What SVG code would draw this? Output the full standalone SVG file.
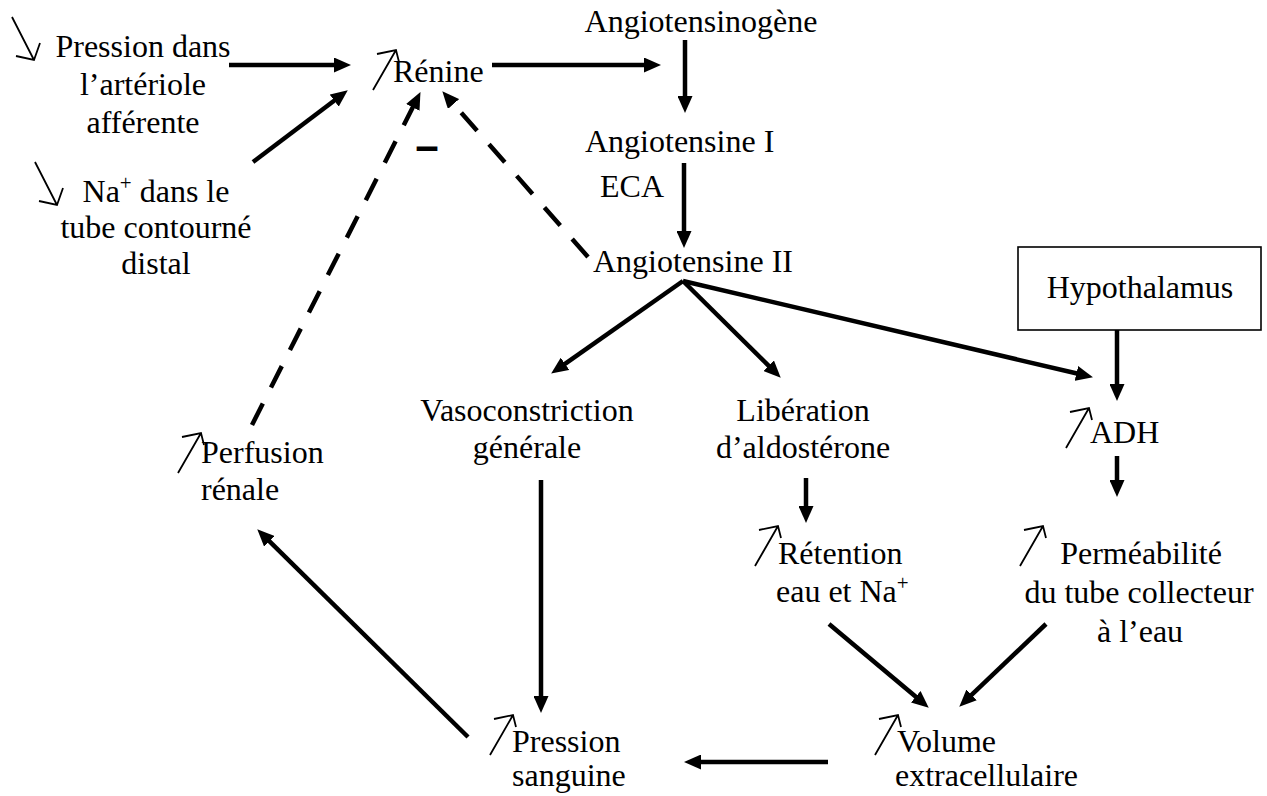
<svg xmlns="http://www.w3.org/2000/svg" xmlns:xlink="http://www.w3.org/1999/xlink" width="1267" height="796" viewBox="0 0 1267 796">
<style>
text{font-family:"Liberation Serif","Times New Roman",serif;font-size:32px;fill:#000}
.c{text-anchor:middle}
.sup{font-size:21px}
.ln{fill:none;stroke:#000;stroke-width:4.5;marker-end:url(#ah)}
.dash{stroke-dasharray:24 18}
.sym{fill:none;stroke:#000;stroke-width:1.8}
.box{fill:#fff;stroke:#000;stroke-width:1.6}
.minus{font-weight:bold;font-size:36px;stroke:#000;stroke-width:2.2}
</style>
<defs>
<marker id="ah" markerUnits="userSpaceOnUse" markerWidth="17" markerHeight="15" viewBox="0 0 17 15" refX="4" refY="7.5" orient="auto">
<path d="M0,0 L17,7.5 L0,15 z" fill="#000"/>
</marker>
<path id="up" class="sym" d="M0,0 L23,-40 M4,-36 L23,-40 L26,-28"/>
<path id="down" class="sym" d="M0,0 L22,43 M4,39 L22,43 L28,26"/>
</defs>
<rect width="1267" height="796" fill="#fff"/>

<g id="connectors">
<line class="ln" x1="229" y1="65" x2="338" y2="65"/>
<line class="ln" x1="253" y1="162" x2="337.4" y2="98.2"/>
<line class="ln" x1="492" y1="65" x2="648" y2="65"/>
<line class="ln" x1="685" y1="40" x2="685" y2="100"/>
<line class="ln" x1="684" y1="163" x2="684" y2="235"/>
<line class="ln" x1="683" y1="281" x2="561.8" y2="366.1"/>
<line class="ln" x1="683" y1="281" x2="771.5" y2="368.6"/>
<line class="ln" x1="683" y1="281" x2="1080.3" y2="374.3"/>
<line class="ln" x1="1117" y1="330" x2="1117" y2="388"/>
<line class="ln" x1="541" y1="480" x2="541" y2="700"/>
<line class="ln" x1="806" y1="478" x2="806" y2="510"/>
<line class="ln" x1="1117" y1="456" x2="1117" y2="484"/>
<line class="ln" x1="829" y1="624" x2="918.8" y2="699.3"/>
<line class="ln" x1="1046" y1="624" x2="968.7" y2="697.7"/>
<line class="ln" x1="828" y1="762" x2="697" y2="762"/>
<line class="ln" x1="468" y1="737" x2="266.5" y2="538.4"/>
<line class="ln dash" x1="252" y1="425" x2="414.6" y2="103.7"/>
<line class="ln dash" x1="588" y1="257" x2="450.9" y2="101"/>
<text id="minus" class="c minus" x="427" y="157">–</text>
</g>

<g id="node-pression-arteriole">
<use xlink:href="#down" x="12" y="17"/>
<text class="c" x="143" y="57">Pression dans</text>
<text class="c" x="143" y="95">l’artériole</text>
<text class="c" x="143" y="133">afférente</text>
</g>

<g id="node-na-tube">
<use xlink:href="#down" x="35" y="162"/>
<text class="c" x="156" y="202">Na<tspan class="sup" dy="-12">+</tspan><tspan dy="12"> dans le</tspan></text>
<text class="c" x="156" y="238">tube contourné</text>
<text class="c" x="156" y="274">distal</text>
</g>

<g id="node-renine">
<use xlink:href="#up" x="373" y="90"/>
<text x="393" y="82">Rénine</text>
</g>

<g id="node-angiotensinogene">
<text class="c" x="701" y="32">Angiotensinogène</text>
</g>

<g id="node-angiotensine1">
<text x="585" y="152">Angiotensine I</text>
</g>

<g id="label-eca">
<text x="600" y="197">ECA</text>
</g>

<g id="node-angiotensine2">
<text x="593" y="272">Angiotensine II</text>
</g>

<g id="node-hypothalamus">
<rect class="box" x="1018" y="247" width="243" height="83"/>
<text class="c" x="1140" y="298">Hypothalamus</text>
</g>

<g id="node-vasoconstriction">
<text class="c" x="527" y="421">Vasoconstriction</text>
<text class="c" x="527" y="458">générale</text>
</g>

<g id="node-aldosterone">
<text class="c" x="803" y="421">Libération</text>
<text class="c" x="803" y="458">d’aldostérone</text>
</g>

<g id="node-adh">
<use xlink:href="#up" x="1066" y="448"/>
<text x="1090" y="443">ADH</text>
</g>

<g id="node-retention">
<use xlink:href="#up" x="755" y="566"/>
<text x="778" y="564">Rétention</text>
<text x="776" y="602">eau et Na<tspan class="sup" dy="-12">+</tspan></text>
</g>

<g id="node-permeabilite">
<use xlink:href="#up" x="1020" y="566"/>
<text class="c" x="1141" y="564">Perméabilité</text>
<text class="c" x="1139" y="603">du tube collecteur</text>
<text class="c" x="1140" y="642">à l’eau</text>
</g>

<g id="node-perfusion">
<use xlink:href="#up" x="178" y="473"/>
<text x="201" y="463">Perfusion</text>
<text x="201" y="500">rénale</text>
</g>

<g id="node-pression-sanguine">
<use xlink:href="#up" x="490" y="755"/>
<text x="512" y="752">Pression</text>
<text x="512" y="786">sanguine</text>
</g>

<g id="node-volume">
<use xlink:href="#up" x="875" y="755"/>
<text x="897" y="752">Volume</text>
<text x="895" y="786">extracellulaire</text>
</g>
</svg>
